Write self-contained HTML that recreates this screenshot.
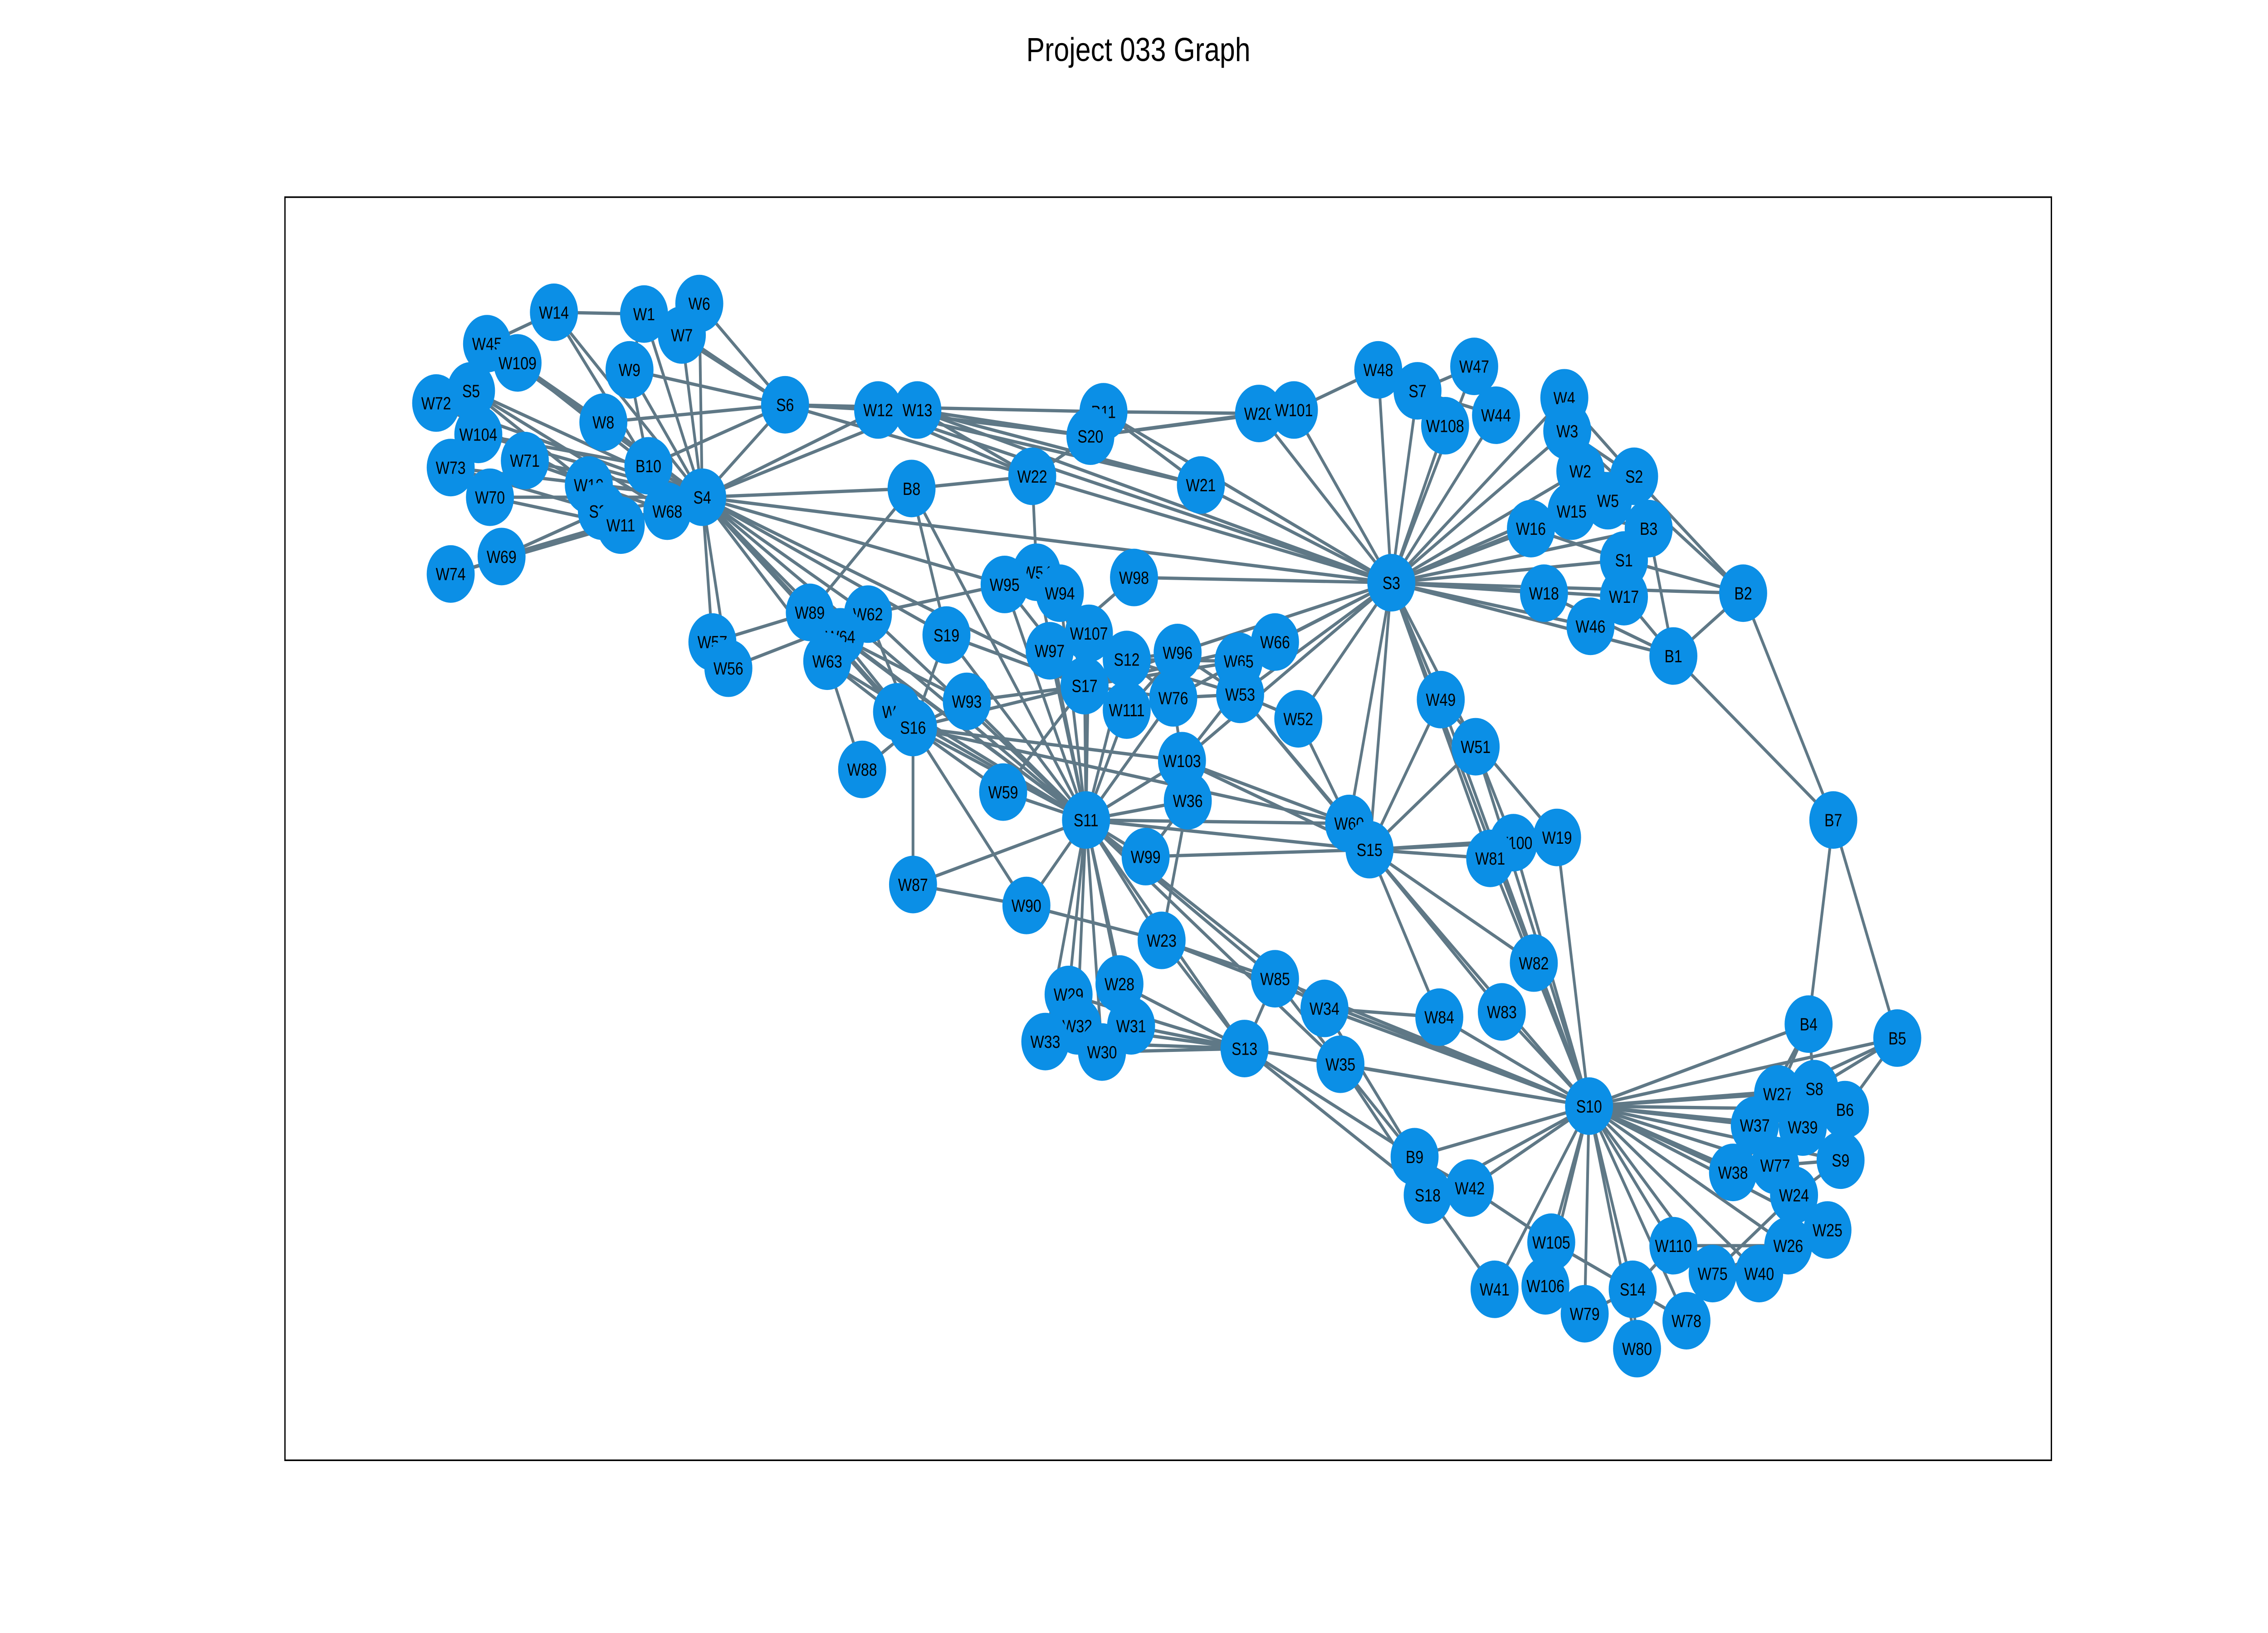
<!DOCTYPE html>
<html><head><meta charset="utf-8"><style>
html,body{margin:0;padding:0;background:#fff;overflow:hidden;width:100%;height:100%;}
svg{display:block;width:100vw;height:100vh;}
text{font-family:"Liberation Sans","DejaVu Sans",sans-serif;}
</style></head><body>
<svg id="chart" viewBox="0 0 1560 936" preserveAspectRatio="none" xmlns="http://www.w3.org/2000/svg">
<rect x="0" y="0" width="1560" height="936" fill="#fff"/>
<text x="783" y="35" text-anchor="middle" font-size="19" fill="#000">Project 033 Graph</text>
<rect x="196" y="113" width="1215" height="724" fill="none" stroke="#000" stroke-width="0.9"/>
<g id="edges"></g>
<g id="nodes"></g>
</svg>
<script>
const nodeNames=["W14","W1","W6","W7","W45","W109","W9","S5","W72","S6","W12","W13","B11","S20","W20","W101","W48","S7","W47","W108","W44","W4","W3","W8","W104","W73","W71","B10","W10","S4","W70","S21","W11","W68","W74","W69","B8","W22","W21","W2","S2","W5","W15","W16","B3","S1","S3","W18","W17","B2","W46","B1","W54","W95","W94","W98","W89","W62","W64","W57","W56","W63","S19","W107","W97","S12","W96","W65","W66","S17","W93","W92","S16","W111","W76","W53","W52","W49","W51","W88","W103","W59","W36","S11","W60","W100","W19","S15","W81","B7","W99","W87","W90","W23","W82","W85","W29","W28","W34","W84","W83","B4","B5","W32","W31","W33","W30","S13","W35","W27","S8","B6","S10","W37","W39","B9","S9","W38","W77","W42","S18","W24","W25","W105","W110","W26","W75","W40","W41","W106","S14","W79","W78","W80"];
const nodeX=[381,443,481,469,335,356,433,324,300,540,604,631,759,750,866,890,948,975,1014,994,1029,1076,1078,415,329,310,361,446,405,483,337,414,427,459,310,345,627,710,826,1087,1124,1106,1081,1053,1134,1117,957,1062,1117,1199,1094,1151,713,691,729,780,557,597,578,490,501,569,651,749,722,775,810,852,877,746,665,617,628,775,807,853,893,991,1015,593,813,690,817,747,928,1041,1071,942,1025,1261,788,628,706,799,1055,877,735,770,911,990,1033,1244,1305,741,778,719,758,856,922,1223,1248,1269,1093,1207,1240,973,1266,1192,1221,1011,982,1234,1257,1067,1151,1230,1178,1210,1028,1063,1123,1090,1160,1126];
const nodeY=[179,180,174,192,197,208,212,224,231,232,235,235,236,250,237,235,212,224,210,244,238,228,247,242,249,268,264,267,278,285,285,293,301,293,329,319,280,273,278,270,273,287,293,303,303,321,334,340,342,340,359,376,328,335,340,331,351,352,365,368,383,379,364,363,373,378,374,379,368,393,402,408,417,407,400,398,412,401,428,441,436,454,459,470,472,483,480,487,492,470,491,507,519,539,552,561,570,564,578,583,580,587,595,588,588,597,603,601,610,627,624,636,634,645,646,663,665,672,668,681,685,685,705,712,714,714,730,730,739,737,739,753,757,773];
const edgeList=[
"S4-W14","S4-W1","S4-W6","S4-W7","S4-W45","S4-W109","S4-W9","S4-S5","S4-W72","S4-S6","S4-W12","S4-W13","S4-W8","S4-W104","S4-W73","S4-W71","S4-B10","S4-W10","S4-W70","S4-S21","S4-W11","S4-W68","S4-W74","S4-W69","S4-B8","S4-W89","S4-W62","S4-W64","S4-W57","S4-W56","S4-W63","S4-S19","S4-S16","S4-W92","S4-S11","S4-S17","S4-S3","S4-W95",
"W14-W1","W14-B10","W45-W14","W109-B10","W8-S6","W1-S6","W7-S6","W9-S6","W9-B10","B10-S6","W72-W10","S5-W10","W104-B10","W73-S21","W70-W11","W69-S21","W74-W68","W71-W68","S5-W68","W109-W8","W6-S6","W1-W9","W6-W7",
"S6-W12","S6-W13","S6-B11","W12-S20","W12-W22","W12-W21","W13-W22","W13-S3","W13-S20","W13-W21","W12-S3","B11-W20","B11-S3","S20-W20","S20-W101","S20-W22","B11-W21","W21-S3","W22-S3","B8-W22","W22-W54","S6-W22",
"S3-W20","S3-W101","S3-W48","S3-S7","S3-W47","S3-W108","S3-W44","S3-W4","S3-W3","S3-W2","S3-S2","S3-W5","S3-W15","S3-W16","S3-B3","S3-S1","S3-W18","S3-W17","S3-B2","S3-W46","S3-B1","S3-W98","S3-W96","S3-W65","S3-W66","S3-W53","S3-W52","S3-W49","S3-W51","S3-W60","S3-S15","S3-S10","S3-W103","S3-W81",
"W48-W101","S7-W47","S7-W44","W108-S7","S2-W2","S2-W4","S2-W3","S2-B3","S2-B2","W5-B3","W15-B3","W16-S1","W3-B2","B2-B1","B2-S1","B2-B7","W17-B1","W18-B1","B3-B1","S1-W46","B1-B7","B7-B4","B7-B5",
"B8-W89","B8-S19","B8-S11","W95-W62","W54-S11","W95-S11","W94-S11","W107-S11","W97-S11","S12-S11","S17-S11","W111-S11","W93-S11","S16-S11","W92-S11","W59-S11","W62-S11","W64-S11","W63-S11","S19-S11","W89-S11","W36-S11","W103-S11","W76-S11","W99-S11","W90-S11","W87-S11","W23-S11","W29-S11","W28-S11","W32-S11","W31-S11","W33-S11","W30-S11","S13-S11","W85-S11","W34-S11","W35-S11","W60-S11","S15-S11","W98-W97",
"S16-W92","S16-W88","S16-W87","S16-W59","S16-W90","S16-S19","S16-W63","S16-W64","S16-W62","S16-W89","S16-W93","S16-W60","S16-S17","S16-W103","W57-W89","W56-W62","W88-W63","W64-W93",
"S17-W111","S17-W76","S17-W96","S17-W65","S17-W66","S17-S19","S17-W93","S17-W94","S17-W95","S17-W59","S12-W96","S12-W65","S12-W76","S12-W107","W94-W54","W53-W52","W53-W60","W53-W76","W53-W65","W53-W96","W66-W76","W52-W60","W103-W60","W103-W76","S12-W53","W111-W96",
"W87-W90","W90-W23","W99-W36","W36-W103","W36-W23","W103-W66",
"S15-W60","S15-W100","S15-W19","S15-W81","S15-W99","S15-W51","S15-W49","S15-W82","S15-W83","S15-W84","S15-S10","S15-W103","S15-W53",
"S10-W19","S10-W81","S10-W100","S10-W51","S10-W49","S10-W82","S10-W83","S10-W84","S10-W34","S10-W35","S10-W85","S10-S13","S10-B4","S10-B5","S10-W27","S10-S8","S10-B6","S10-W37","S10-W39","S10-B9","S10-S9","S10-W38","S10-W77","S10-W42","S10-S18","S10-W24","S10-W25","S10-W105","S10-W110","S10-W26","S10-W75","S10-W40","S10-W41","S10-W106","S10-S14","S10-W79","S10-W78","S10-W80","S10-W23",
"S13-W23","S13-W29","S13-W28","S13-W32","S13-W31","S13-W33","S13-W30","S13-B9","S13-S18","S13-W85","W85-W34","W85-W35","W34-B9","W35-B9","W35-S18","W23-W85","W84-W34","W51-W100","W49-W19",
"B4-W27","B4-S8","B4-W37","B5-W27","B5-B6","B5-S8","W24-S9","B6-W39","S9-W77","W25-W26","W40-W24","W75-W24","S14-W110","S14-W105","S14-W79","S14-W78","S14-W80","W110-W26","S18-W41","S18-W42","B9-W42","W105-W106","W42-W105","W110-W40","W75-W25","W38-S8"
];
const svgNS="http://www.w3.org/2000/svg";
const eg=document.getElementById('edges');
const ng=document.getElementById('nodes');
function idx(n){return nodeNames.indexOf(n);}
edgeList.forEach(function(e){
  const p=e.split('-');const a=idx(p[0]),b=idx(p[1]);
  if(a<0||b<0)return;
  const l=document.createElementNS(svgNS,'line');
  l.setAttribute('x1',nodeX[a]);l.setAttribute('y1',nodeY[a]);
  l.setAttribute('x2',nodeX[b]);l.setAttribute('y2',nodeY[b]);
  l.setAttribute('stroke','#5f7886');l.setAttribute('stroke-width','1.9');
  
  
  eg.appendChild(l);
});
nodeNames.forEach(function(n,i){
  const g=document.createElementNS(svgNS,'g');
  
  
  const c=document.createElementNS(svgNS,'circle');
  c.setAttribute('cx',nodeX[i]);c.setAttribute('cy',nodeY[i]);c.setAttribute('r','16.5');
  c.setAttribute('fill','#0b8fe6');
  g.appendChild(c);
  const t=document.createElementNS(svgNS,'text');
  t.setAttribute('x',nodeX[i]);t.setAttribute('y',nodeY[i]+3.6);
  t.setAttribute('text-anchor','middle');t.setAttribute('font-size','10');t.setAttribute('fill','#000');
  t.textContent=n;
  g.appendChild(t);
  ng.appendChild(g);
});
</script>
</body></html>
